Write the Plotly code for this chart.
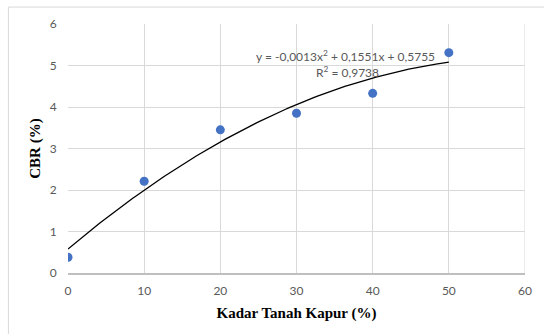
import numpy as np
import plotly.graph_objects as go

# Data
kadar_kapur = [0, 10, 20, 30, 40, 50]
cbr = [0.38, 2.21, 3.45, 3.85, 4.33, 5.31]

# Trendline coefficients shown on the chart
coef_a = -0.0013
coef_b = 0.1551
coef_c = 0.5755
eq_text = "y = -0,0013x<sup>2</sup> + 0,1551x + 0,5755"
r2_text = "R<sup>2</sup> = 0,9738"

x_ticks = [0, 10, 20, 30, 40, 50, 60]
y_ticks = [0, 1, 2, 3, 4, 5, 6]

xt = np.linspace(min(kadar_kapur), max(kadar_kapur), 200)
yt = coef_a * xt**2 + coef_b * xt + coef_c

fig = go.Figure()
fig.add_trace(go.Scatter(x=xt, y=yt, mode="lines",
                         line=dict(color="black", width=1.3),
                         hoverinfo="skip", showlegend=False))
fig.add_trace(go.Scatter(x=kadar_kapur, y=cbr, mode="markers",
                         marker=dict(color="#4472C4", size=9),
                         showlegend=False))

tick_font = dict(family="Lato", size=12, color="#595959")
title_font = dict(family="Liberation Serif", size=15, color="black")

fig.update_layout(
    width=544, height=334,
    margin=dict(l=68, r=16, t=24, b=61),
    plot_bgcolor="white", paper_bgcolor="white",
    xaxis=dict(range=[0, 60], tickvals=x_ticks, showgrid=True, gridcolor="#d9d9d9",
               gridwidth=1, zeroline=False, showline=True, linecolor="#bfbfbf", linewidth=1.5,
               ticks="outside", ticklen=6, tickcolor="rgba(0,0,0,0)", tickfont=tick_font,
               title=dict(text="<b>Kadar Tanah Kapur (%)</b>", font=title_font, standoff=10)),
    yaxis=dict(range=[0, 6], tickvals=y_ticks, showgrid=True, gridcolor="#d9d9d9",
               gridwidth=1, zeroline=False, showline=False,
               ticks="outside", ticklen=8, tickcolor="rgba(0,0,0,0)", tickfont=tick_font,
               title=dict(text="<b>CBR (%)</b>", font=title_font, standoff=5)),
    shapes=[
        dict(type="line", xref="x", yref="paper", x0=60, x1=60, y0=0, y1=1,
             line=dict(color="#d9d9d9", width=1)),
        dict(type="rect", xref="paper", yref="paper", x0=-0.1304, x1=1.1, y0=-0.26, y1=1.068,
             line=dict(color="#d9d9d9", width=1), layer="below"),
    ],
)

fig.add_annotation(x=(347 - 68) / 460, y=(273 - 56) / 249, xref="paper", yref="paper",
                   text=eq_text, showarrow=False, font=tick_font, xanchor="center", yanchor="middle")
fig.add_annotation(x=(349 - 68) / 460, y=(273 - 72) / 249, xref="paper", yref="paper",
                   text=r2_text, showarrow=False, font=tick_font, xanchor="center", yanchor="middle")

fig.write_html("out.html", config={"displayModeBar": False},
               post_script="document.body.style.margin='0';")
